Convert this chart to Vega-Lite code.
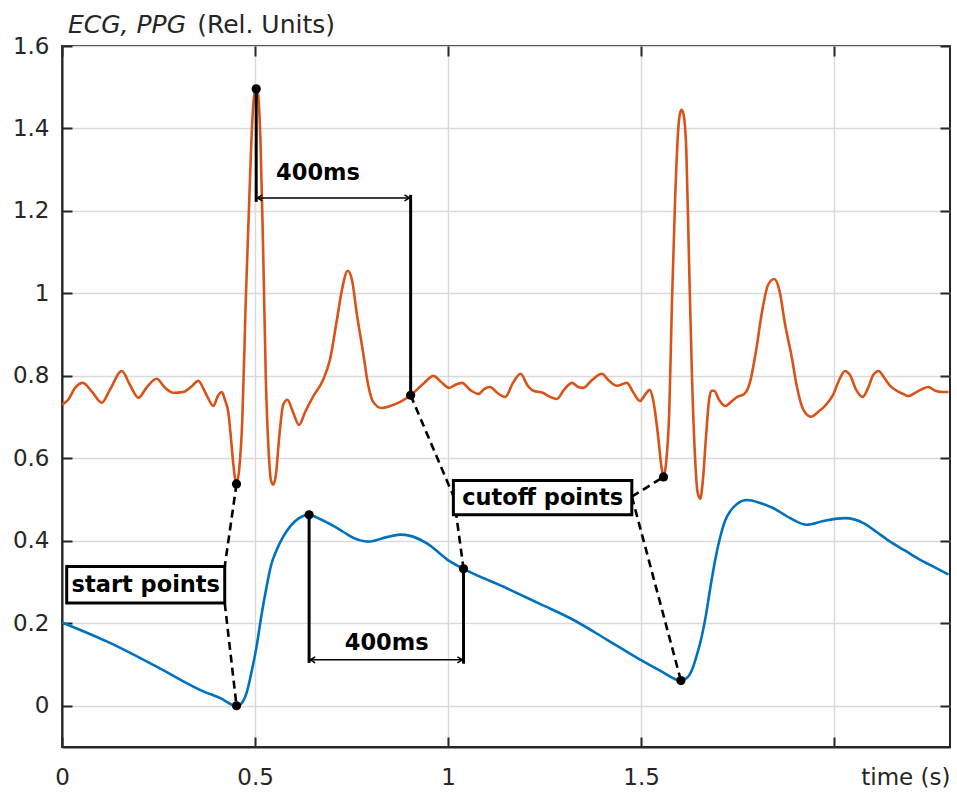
{
  "$schema": "https://vega.github.io/schema/vega-lite/v6.json",
  "width": 888,
  "height": 701,
  "autosize": {"type": "none"},
  "padding": {"left": 62, "top": 46, "right": 7, "bottom": 46},
  "background": "white",
  "config": {
    "view": {"stroke": "#262626", "strokeWidth": 2},
    "axis": {
      "gridColor": "#dadada",
      "gridWidth": 1.5,
      "domainColor": "#262626",
      "domainWidth": 2,
      "tickColor": "#262626",
      "tickWidth": 2,
      "labelFont": "DejaVu Sans",
      "labelFontSize": 23,
      "labelColor": "#262626",
      "labelFlush": false,
      "labelOverlap": false,
      "titleFont": "DejaVu Sans",
      "titleFontSize": 23,
      "titleFontWeight": "normal",
      "titleColor": "#262626"
    }
  },
  "datasets": {
    "ecg": [
      {"time": 0, "value": 0.730}, {"time": 0.016, "value": 0.742}, {"time": 0.034, "value": 0.771},
      {"time": 0.054, "value": 0.783}, {"time": 0.078, "value": 0.761}, {"time": 0.103, "value": 0.735},
      {"time": 0.124, "value": 0.766}, {"time": 0.155, "value": 0.812}, {"time": 0.176, "value": 0.778},
      {"time": 0.198, "value": 0.747}, {"time": 0.220, "value": 0.773}, {"time": 0.245, "value": 0.793},
      {"time": 0.267, "value": 0.771}, {"time": 0.288, "value": 0.759}, {"time": 0.314, "value": 0.761},
      {"time": 0.334, "value": 0.773}, {"time": 0.353, "value": 0.788}, {"time": 0.373, "value": 0.756},
      {"time": 0.392, "value": 0.727}, {"time": 0.404, "value": 0.752}, {"time": 0.414, "value": 0.761},
      {"time": 0.422, "value": 0.742}, {"time": 0.431, "value": 0.710}, {"time": 0.438, "value": 0.645},
      {"time": 0.444, "value": 0.584}, {"time": 0.452, "value": 0.538}, {"time": 0.460, "value": 0.584},
      {"time": 0.467, "value": 0.693}, {"time": 0.476, "value": 0.984}, {"time": 0.485, "value": 1.227},
      {"time": 0.493, "value": 1.420}, {"time": 0.498, "value": 1.481}, {"time": 0.503, "value": 1.496},
      {"time": 0.508, "value": 1.481}, {"time": 0.514, "value": 1.372}, {"time": 0.521, "value": 1.105},
      {"time": 0.528, "value": 0.790}, {"time": 0.535, "value": 0.621}, {"time": 0.541, "value": 0.548},
      {"time": 0.547, "value": 0.536}, {"time": 0.554, "value": 0.560}, {"time": 0.562, "value": 0.645},
      {"time": 0.573, "value": 0.730}, {"time": 0.584, "value": 0.742}, {"time": 0.598, "value": 0.713},
      {"time": 0.614, "value": 0.681}, {"time": 0.630, "value": 0.713}, {"time": 0.650, "value": 0.749},
      {"time": 0.676, "value": 0.790}, {"time": 0.694, "value": 0.839}, {"time": 0.712, "value": 0.936},
      {"time": 0.725, "value": 1.008}, {"time": 0.740, "value": 1.055}, {"time": 0.751, "value": 1.033},
      {"time": 0.764, "value": 0.948}, {"time": 0.780, "value": 0.856}, {"time": 0.793, "value": 0.778},
      {"time": 0.806, "value": 0.737}, {"time": 0.828, "value": 0.722}, {"time": 0.850, "value": 0.727},
      {"time": 0.876, "value": 0.737}, {"time": 0.903, "value": 0.753}, {"time": 0.938, "value": 0.783},
      {"time": 0.962, "value": 0.800}, {"time": 0.982, "value": 0.785}, {"time": 1.003, "value": 0.771},
      {"time": 1.018, "value": 0.778}, {"time": 1.036, "value": 0.783}, {"time": 1.057, "value": 0.766},
      {"time": 1.079, "value": 0.756}, {"time": 1.093, "value": 0.768}, {"time": 1.109, "value": 0.773},
      {"time": 1.127, "value": 0.759}, {"time": 1.148, "value": 0.749}, {"time": 1.168, "value": 0.783},
      {"time": 1.188, "value": 0.805}, {"time": 1.205, "value": 0.778}, {"time": 1.221, "value": 0.764},
      {"time": 1.245, "value": 0.759}, {"time": 1.264, "value": 0.749}, {"time": 1.282, "value": 0.744},
      {"time": 1.300, "value": 0.766}, {"time": 1.321, "value": 0.783}, {"time": 1.337, "value": 0.773},
      {"time": 1.350, "value": 0.771}, {"time": 1.373, "value": 0.790}, {"time": 1.398, "value": 0.805},
      {"time": 1.417, "value": 0.788}, {"time": 1.437, "value": 0.776}, {"time": 1.463, "value": 0.783},
      {"time": 1.479, "value": 0.761}, {"time": 1.497, "value": 0.739}, {"time": 1.510, "value": 0.754},
      {"time": 1.522, "value": 0.766}, {"time": 1.531, "value": 0.742}, {"time": 1.539, "value": 0.693},
      {"time": 1.545, "value": 0.645}, {"time": 1.552, "value": 0.584}, {"time": 1.558, "value": 0.555},
      {"time": 1.565, "value": 0.592}, {"time": 1.573, "value": 0.718}, {"time": 1.580, "value": 0.984},
      {"time": 1.588, "value": 1.227}, {"time": 1.596, "value": 1.396}, {"time": 1.601, "value": 1.438},
      {"time": 1.605, "value": 1.445}, {"time": 1.610, "value": 1.433}, {"time": 1.617, "value": 1.348},
      {"time": 1.624, "value": 1.081}, {"time": 1.632, "value": 0.790}, {"time": 1.640, "value": 0.596},
      {"time": 1.646, "value": 0.519}, {"time": 1.653, "value": 0.502}, {"time": 1.660, "value": 0.548},
      {"time": 1.668, "value": 0.652}, {"time": 1.676, "value": 0.742}, {"time": 1.682, "value": 0.764},
      {"time": 1.689, "value": 0.764}, {"time": 1.702, "value": 0.742}, {"time": 1.718, "value": 0.727},
      {"time": 1.733, "value": 0.737}, {"time": 1.749, "value": 0.749}, {"time": 1.767, "value": 0.756},
      {"time": 1.782, "value": 0.785}, {"time": 1.798, "value": 0.863}, {"time": 1.813, "value": 0.955},
      {"time": 1.829, "value": 1.021}, {"time": 1.845, "value": 1.035}, {"time": 1.858, "value": 1.008},
      {"time": 1.873, "value": 0.924}, {"time": 1.890, "value": 0.846}, {"time": 1.904, "value": 0.771},
      {"time": 1.920, "value": 0.718}, {"time": 1.940, "value": 0.701}, {"time": 1.959, "value": 0.713},
      {"time": 1.979, "value": 0.730}, {"time": 1.997, "value": 0.754}, {"time": 2.013, "value": 0.790},
      {"time": 2.028, "value": 0.812}, {"time": 2.041, "value": 0.802}, {"time": 2.057, "value": 0.766},
      {"time": 2.074, "value": 0.749}, {"time": 2.088, "value": 0.771}, {"time": 2.101, "value": 0.802},
      {"time": 2.115, "value": 0.812}, {"time": 2.130, "value": 0.795}, {"time": 2.145, "value": 0.776},
      {"time": 2.162, "value": 0.764}, {"time": 2.179, "value": 0.756}, {"time": 2.192, "value": 0.751},
      {"time": 2.210, "value": 0.759}, {"time": 2.228, "value": 0.768}, {"time": 2.244, "value": 0.773},
      {"time": 2.262, "value": 0.764}, {"time": 2.279, "value": 0.761}, {"time": 2.296, "value": 0.761}
    ],
    "ppg": [
      {"time": 0, "value": 0.202}, {"time": 0.116, "value": 0.156}, {"time": 0.245, "value": 0.095},
      {"time": 0.366, "value": 0.035}, {"time": 0.409, "value": 0.019}, {"time": 0.452, "value": 0.0},
      {"time": 0.464, "value": 0.005}, {"time": 0.478, "value": 0.031}, {"time": 0.490, "value": 0.078},
      {"time": 0.504, "value": 0.144}, {"time": 0.516, "value": 0.216}, {"time": 0.530, "value": 0.289},
      {"time": 0.541, "value": 0.339}, {"time": 0.556, "value": 0.378}, {"time": 0.573, "value": 0.410},
      {"time": 0.591, "value": 0.435}, {"time": 0.612, "value": 0.454}, {"time": 0.640, "value": 0.463},
      {"time": 0.668, "value": 0.453}, {"time": 0.703, "value": 0.436}, {"time": 0.728, "value": 0.422},
      {"time": 0.755, "value": 0.407}, {"time": 0.793, "value": 0.398}, {"time": 0.841, "value": 0.409},
      {"time": 0.876, "value": 0.415}, {"time": 0.902, "value": 0.412}, {"time": 0.945, "value": 0.394},
      {"time": 1.005, "value": 0.350}, {"time": 1.040, "value": 0.332}, {"time": 1.152, "value": 0.285},
      {"time": 1.238, "value": 0.247}, {"time": 1.325, "value": 0.208}, {"time": 1.412, "value": 0.160},
      {"time": 1.497, "value": 0.112}, {"time": 1.549, "value": 0.085}, {"time": 1.603, "value": 0.061},
      {"time": 1.619, "value": 0.068}, {"time": 1.633, "value": 0.090}, {"time": 1.645, "value": 0.125},
      {"time": 1.655, "value": 0.160}, {"time": 1.667, "value": 0.215}, {"time": 1.679, "value": 0.285},
      {"time": 1.692, "value": 0.355}, {"time": 1.705, "value": 0.410}, {"time": 1.718, "value": 0.450},
      {"time": 1.731, "value": 0.472}, {"time": 1.749, "value": 0.490}, {"time": 1.774, "value": 0.499},
      {"time": 1.808, "value": 0.492}, {"time": 1.843, "value": 0.479}, {"time": 1.886, "value": 0.455},
      {"time": 1.929, "value": 0.439}, {"time": 1.972, "value": 0.448}, {"time": 2.028, "value": 0.455},
      {"time": 2.076, "value": 0.443}, {"time": 2.109, "value": 0.422}, {"time": 2.145, "value": 0.398},
      {"time": 2.184, "value": 0.376}, {"time": 2.223, "value": 0.354}, {"time": 2.262, "value": 0.335},
      {"time": 2.296, "value": 0.318}
    ],
    "dots": [
      {"time": 0.452, "value": 0.538}, {"time": 0.503, "value": 1.496},
      {"time": 0.903, "value": 0.753}, {"time": 1.558, "value": 0.555},
      {"time": 0.452, "value": 0.0}, {"time": 0.640, "value": 0.463},
      {"time": 1.040, "value": 0.332}, {"time": 1.603, "value": 0.061}
    ],
    "dashes": [
      {"time": 0.452, "value": 0.538, "time2": 0.4215, "value2": 0.3377},
      {"time": 0.4215, "value": 0.249, "time2": 0.452, "value2": 0.0},
      {"time": 0.903, "value": 0.753, "time2": 1.015, "value2": 0.506},
      {"time": 1.015, "value": 0.506, "time2": 1.040, "value2": 0.332},
      {"time": 1.476, "value": 0.507, "time2": 1.558, "value2": 0.555},
      {"time": 1.476, "value": 0.507, "time2": 1.603, "value2": 0.061}
    ],
    "bars": [
      {"time": 0.503, "value": 1.496, "value2": 1.222},
      {"time": 0.903, "value": 0.753, "value2": 1.239},
      {"time": 0.640, "value": 0.463, "value2": 0.104},
      {"time": 1.040, "value": 0.332, "value2": 0.102}
    ],
    "spans": [
      {"time": 0.503, "time2": 0.903, "value": 1.2315},
      {"time": 0.640, "time2": 1.040, "value": 0.1115}
    ],
    "heads": [
      {"time": 0.506, "value": 1.2315, "dir": "left"},
      {"time": 0.900, "value": 1.2315, "dir": "right"},
      {"time": 0.643, "value": 0.1115, "dir": "left"},
      {"time": 1.037, "value": 0.1115, "dir": "right"}
    ],
    "boxes": [
      {"time": 0.0122, "time2": 0.4215, "value": 0.249, "value2": 0.3377, "xc": 0.217, "yc": 0.293, "label": "start points"},
      {"time": 1.0137, "time2": 1.4759, "value": 0.463, "value2": 0.546, "xc": 1.245, "yc": 0.505, "label": "cutoff points"}
    ],
    "intervals": [
      {"time": 0.663, "value": 1.292, "label": "400ms"},
      {"time": 0.841, "value": 0.153, "label": "400ms"}
    ],
    "heading": [
      {"time": 0.0155, "value": 1.6315, "label": "ECG, PPG", "style": "italic"},
      {"time": 0.35, "value": 1.6315, "label": "(Rel. Units)", "style": "normal"}
    ]
  },
  "resolve": {"axis": {"x": "independent", "y": "independent"}},
  "layer": [
    {
      "data": {"name": "ecg"},
      "mark": {"type": "line", "color": "#D95319", "strokeWidth": 2.6, "interpolate": "monotone"},
      "encoding": {
        "x": {
          "field": "time", "type": "quantitative",
          "scale": {"domain": [0, 2.3], "nice": false, "zero": false},
          "axis": {
            "orient": "bottom",
            "values": [0, 0.5, 1, 1.5, 2], "format": "~g", "grid": true,
            "ticks": false, "tickSize": 0,
            "labelExpr": "datum.value == 2 ? '' : datum.label",
            "labelBaseline": "alphabetic", "labelPadding": 37,
            "title": "time (s)", "titleX": 888, "titleY": 37,
            "titleAlign": "right", "titleAnchor": "end", "titleBaseline": "alphabetic"
          }
        },
        "y": {
          "field": "value", "type": "quantitative",
          "scale": {"domain": [-0.1, 1.6], "nice": false, "zero": false},
          "axis": {
            "orient": "left",
            "values": [0, 0.2, 0.4, 0.6, 0.8, 1, 1.2, 1.4, 1.6], "format": "~g", "grid": true,
            "ticks": false, "tickSize": 0,
            "labelPadding": 13, "title": null
          }
        }
      }
    },
    {
      "data": {"name": "ppg"},
      "mark": {"type": "line", "color": "#0072BD", "strokeWidth": 2.6, "interpolate": "monotone"},
      "encoding": {
        "x": {
          "field": "time", "type": "quantitative",
          "axis": {"orient": "top", "offset": -701, "values": [0, 0.5, 1, 1.5, 2], "ticks": true, "tickSize": 10,
                   "labels": false, "grid": false, "domain": false, "title": null}
        },
        "y": {
          "field": "value", "type": "quantitative",
          "axis": {"orient": "right", "offset": -888, "values": [0, 0.2, 0.4, 0.6, 0.8, 1, 1.2, 1.4, 1.6], "ticks": true, "tickSize": 10,
                   "labels": false, "grid": false, "domain": false, "title": null}
        }
      }
    },
    {
      "data": {"name": "dashes"},
      "mark": {"type": "rule", "color": "black", "strokeWidth": 2.6, "strokeDash": [8, 5]},
      "encoding": {
        "x": {"field": "time", "type": "quantitative", "axis": null},
        "y": {"field": "value", "type": "quantitative", "axis": null},
        "x2": {"field": "time2"},
        "y2": {"field": "value2"}
      }
    },
    {
      "data": {"name": "bars"},
      "mark": {"type": "rule", "color": "black", "strokeWidth": 3},
      "encoding": {
        "x": {"field": "time", "type": "quantitative", "axis": null},
        "y": {"field": "value", "type": "quantitative", "axis": null},
        "y2": {"field": "value2"}
      }
    },
    {
      "data": {"name": "spans"},
      "mark": {"type": "rule", "color": "black", "strokeWidth": 1.5},
      "encoding": {
        "x": {"field": "time", "type": "quantitative", "axis": null},
        "x2": {"field": "time2"},
        "y": {"field": "value", "type": "quantitative", "axis": null}
      }
    },
    {
      "data": {"name": "heads"},
      "mark": {"type": "point", "filled": false, "color": "black", "strokeWidth": 1.5, "size": 100, "opacity": 1},
      "encoding": {
        "x": {"field": "time", "type": "quantitative", "axis": null},
        "y": {"field": "value", "type": "quantitative", "axis": null},
        "shape": {
          "field": "dir", "type": "nominal", "legend": null,
          "scale": {"domain": ["left", "right"], "range": ["M1,-0.6L0,0L1,0.6", "M-1,-0.6L0,0L-1,0.6"]}
        }
      }
    },
    {
      "data": {"name": "dots"},
      "mark": {"type": "point", "filled": true, "color": "black", "size": 85, "opacity": 1},
      "encoding": {
        "x": {
          "field": "time", "type": "quantitative",
          "axis": {"orient": "bottom", "offset": -701, "values": [0, 0.5, 1, 1.5, 2], "ticks": true, "tickSize": 10,
                   "labels": false, "grid": false, "domain": false, "title": null}
        },
        "y": {
          "field": "value", "type": "quantitative",
          "axis": {"orient": "left", "offset": -888, "values": [0, 0.2, 0.4, 0.6, 0.8, 1, 1.2, 1.4, 1.6], "ticks": true, "tickSize": 10,
                   "labels": false, "grid": false, "domain": false, "title": null}
        }
      }
    },
    {
      "data": {"name": "boxes"},
      "mark": {"type": "rect", "fill": "white", "stroke": "black", "strokeWidth": 3},
      "encoding": {
        "x": {"field": "time", "type": "quantitative", "axis": null},
        "x2": {"field": "time2"},
        "y": {"field": "value", "type": "quantitative", "axis": null},
        "y2": {"field": "value2"}
      }
    },
    {
      "data": {"name": "boxes"},
      "mark": {"type": "text", "font": "DejaVu Sans", "fontWeight": "bold", "fontSize": 22.5, "color": "black", "align": "center", "baseline": "middle"},
      "encoding": {
        "x": {"field": "xc", "type": "quantitative", "axis": null},
        "y": {"field": "yc", "type": "quantitative", "axis": null},
        "text": {"field": "label"}
      }
    },
    {
      "data": {"name": "intervals"},
      "mark": {"type": "text", "font": "DejaVu Sans", "fontWeight": "bold", "fontSize": 22.5, "color": "black", "align": "center", "baseline": "middle"},
      "encoding": {
        "x": {"field": "time", "type": "quantitative", "axis": null},
        "y": {"field": "value", "type": "quantitative", "axis": null},
        "text": {"field": "label"}
      }
    },
    {
      "data": {"name": "heading"},
      "transform": [{"filter": "datum.style == 'italic'"}],
      "mark": {"type": "text", "font": "DejaVu Sans", "fontStyle": "italic", "fontSize": 25, "color": "#262626", "align": "left", "baseline": "alphabetic"},
      "encoding": {
        "x": {"field": "time", "type": "quantitative", "axis": null},
        "y": {"field": "value", "type": "quantitative", "axis": null},
        "text": {"field": "label"}
      }
    },
    {
      "data": {"name": "heading"},
      "transform": [{"filter": "datum.style == 'normal'"}],
      "mark": {"type": "text", "font": "DejaVu Sans", "fontSize": 25, "color": "#262626", "align": "left", "baseline": "alphabetic"},
      "encoding": {
        "x": {"field": "time", "type": "quantitative", "axis": null},
        "y": {"field": "value", "type": "quantitative", "axis": null},
        "text": {"field": "label"}
      }
    }
  ]
}
